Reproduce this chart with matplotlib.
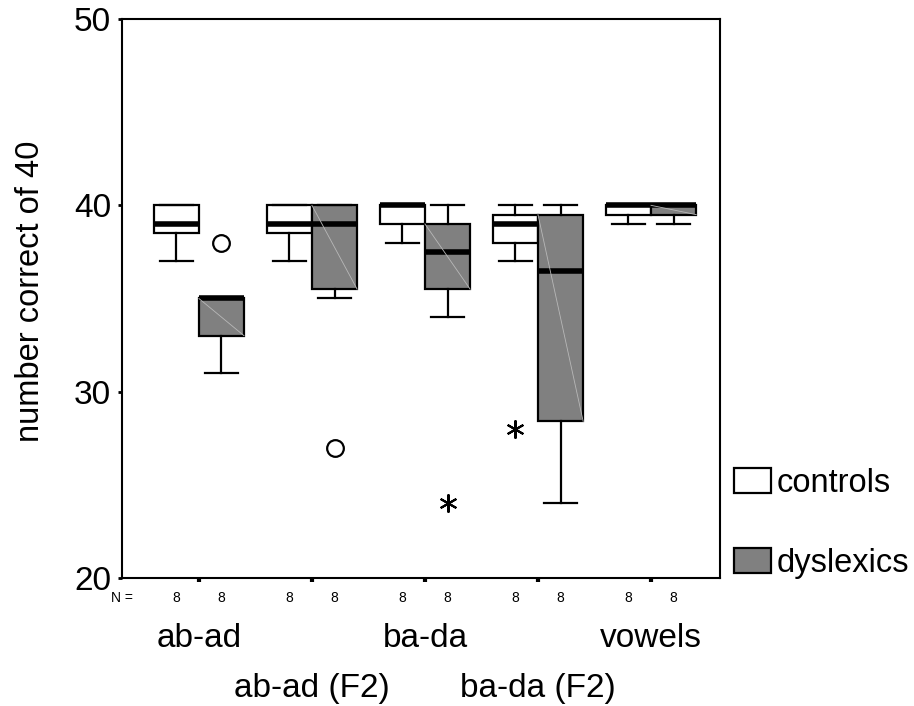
import matplotlib
matplotlib.use("Agg")
import matplotlib.pyplot as plt
from matplotlib.patches import Patch
from matplotlib.transforms import blended_transform_factory

plt.rcParams['font.family'] = ['Liberation Sans', 'DejaVu Sans']

# test names, two rows of labels under the axis
tests = ['ab-ad', 'ab-ad (F2)', 'ba-da', 'ba-da (F2)', 'vowels']
groups = ['controls', 'dyslexics']
n_counts = [[8, 8], [8, 8], [8, 8], [8, 8], [8, 8]]

# five-number summaries per test: whisker low, q1, median, q3, whisker high
ctrl_lo = [37, 37, 38, 37, 39]
ctrl_q1 = [38.5, 38.5, 39, 38, 39.5]
ctrl_med = [39, 39, 40, 39, 40]
ctrl_q3 = [40, 40, 40, 39.5, 40]
ctrl_hi = [40, 40, 40, 40, 40]

dys_lo = [31, 35, 34, 24, 39]
dys_q1 = [33, 35.5, 35.5, 28.4, 39.5]
dys_med = [35, 39, 37.5, 36.5, 40]
dys_q3 = [35, 40, 39, 39.5, 40]
dys_hi = [35, 40, 40, 40, 40]

# outliers (o) and extremes (*): (test index, group index, value)
outliers = [(0, 1, 38), (1, 1, 27)]
extremes = [(2, 1, 24), (3, 0, 28)]

fig = plt.figure(figsize=(9.14, 7.06), dpi=100)
ax = fig.add_axes([0.1335, 0.1813, 0.6542, 0.7918])

centers = list(range(1, len(tests) + 1))
off = 0.2
w = 0.4


def stats(lo, q1, med, q3, hi):
    return [dict(whislo=a, q1=b, med=c, q3=d, whishi=e, fliers=[])
            for a, b, c, d, e in zip(lo, q1, med, q3, hi)]


common = dict(widths=w, capwidths=0.29, patch_artist=True, showfliers=False,
              boxprops=dict(edgecolor='black', linewidth=1.6),
              whiskerprops=dict(color='black', linewidth=1.6),
              capprops=dict(color='black', linewidth=1.6),
              medianprops=dict(color='black', linewidth=4, solid_capstyle='butt'))

b1 = ax.bxp(stats(ctrl_lo, ctrl_q1, ctrl_med, ctrl_q3, ctrl_hi),
            positions=[c - off for c in centers], **common)
b2 = ax.bxp(stats(dys_lo, dys_q1, dys_med, dys_q3, dys_hi),
            positions=[c + off for c in centers], **common)
for p in b1['boxes']:
    p.set_facecolor('white')
for p in b2['boxes']:
    p.set_facecolor('#808080')

# faint diagonal line in the grey boxes
for c, q1, q3 in zip(centers, dys_q1, dys_q3):
    if q3 > q1:
        ax.plot([c + off - w / 2, c + off + w / 2], [q3, q1],
                color='#b8b8b8', linewidth=0.6, zorder=3)

for t, g, v in outliers:
    ax.plot(centers[t] + (off if g else -off), v, 'o', ms=12, mfc='white',
            mec='black', mew=1.6)
for t, g, v in extremes:
    ax.plot(centers[t] + (off if g else -off), v, marker=(6, 2, 0), ms=13,
            color='black', mew=1.5, linestyle='none')

ax.set_xlim(0.32, 5.61)
ax.set_ylim(20, 50)
ax.set_yticks([20, 30, 40, 50])
ax.set_xticks(centers)
ax.set_xticklabels([])
ax.tick_params(axis='y', direction='out', length=3, width=2, labelsize=24, pad=5)
ax.tick_params(axis='x', direction='out', length=3, width=3)
for s in ax.spines.values():
    s.set_linewidth(1.5)
ax.set_ylabel('number correct of 40', fontsize=23.5)
ax.yaxis.set_label_coords(-0.127, 0.512)

tr = blended_transform_factory(ax.transData, ax.transAxes)
ax.text(0.32, -0.035, 'N =', transform=tr, fontsize=10,
        ha='center', va='center')
for c, ns in zip(centers, n_counts):
    ax.text(c - off, -0.035, str(ns[0]), transform=tr, fontsize=10,
            ha='center', va='center')
    ax.text(c + off, -0.035, str(ns[1]), transform=tr, fontsize=10,
            ha='center', va='center')
for i, (c, name) in enumerate(zip(centers, tests)):
    y = -0.109 if i % 2 == 0 else -0.198
    ax.text(c, y, name, transform=tr, fontsize=24, ha='center', va='center')

handles = [Patch(facecolor='white', edgecolor='black', linewidth=1.6),
           Patch(facecolor='#808080', edgecolor='black', linewidth=1.6)]
fig.legend(handles, groups, loc='center left', bbox_to_anchor=(0.803, 0.259),
           frameon=False, fontsize=23.5, handlelength=1.15, handleheight=0.8,
           handletextpad=0.15, labelspacing=1.5, borderpad=0, borderaxespad=0)

fig.savefig('out.png', dpi=100)
